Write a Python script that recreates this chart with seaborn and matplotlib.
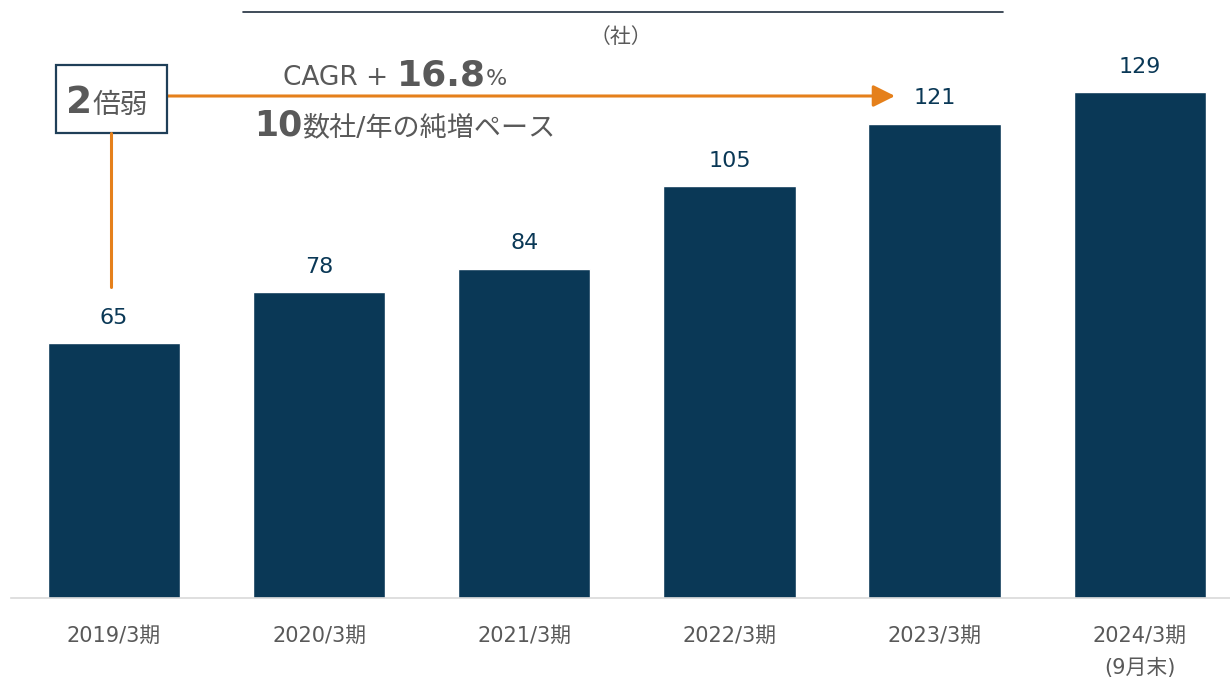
import matplotlib
matplotlib.use("Agg")
import matplotlib.pyplot as plt
import seaborn as sns
import pandas as pd

# data
periods = ["2019/3期", "2020/3期", "2021/3期", "2022/3期", "2023/3期", "2024/3期\n(9月末)"]
companies = [65, 78, 84, 105, 121, 129]

NAVY = "#0a3856"
ORANGE = "#e5801b"
GRAY = "#595959"
W, H = 1230, 678

sns.set_theme(style="white")
# DejaVu for latin (Verdana-like), CJK font as fallback for Japanese
plt.rcParams["font.family"] = ["DejaVu Sans", "Noto Sans CJK JP"]

df = pd.DataFrame({"period": periods, "count": companies})

fig = plt.figure(figsize=(W / 100, H / 100), dpi=100)
ax = fig.add_axes([11 / W, (H - 598) / H, (W - 11) / W, 598 / H])

sns.barplot(data=df, x="period", y="count", color=NAVY, width=0.645,
            saturation=1, ax=ax)
ax.set_xlim(-0.502, 5.44)
ax.set_ylim(0, 152.5)
ax.set_xlabel("")
ax.set_ylabel("")
ax.set_yticks([])
ax.tick_params(axis="x", length=0, pad=20, labelsize=15, labelcolor=GRAY)
for lbl in ax.get_xticklabels():
    lbl.set_linespacing(1.75)
    lbl.set_verticalalignment("top")
for s in ["top", "left", "right"]:
    ax.spines[s].set_visible(False)
ax.spines["bottom"].set_color("#d9d9d9")
ax.spines["bottom"].set_linewidth(1.2)

ax.bar_label(ax.containers[0], padding=11, fontsize=16, color=NAVY)


def px(x, y):
    return x / W, 1 - y / H


# top rule and unit
fig.add_artist(plt.Line2D([243 / W, 1003 / W], [1 - 12 / H, 1 - 12 / H],
                          color="#1f2d3d", lw=1.2))
fig.text(*px(621, 37), "（社）", ha="center", va="center", fontsize=15,
         color=GRAY, family=["Noto Sans CJK JP"])

# orange arrow and connector
ax.annotate("", xy=px(895, 96), xytext=px(167, 96),
            xycoords="figure fraction", textcoords="figure fraction",
            arrowprops=dict(arrowstyle="-|>,head_length=1.1,head_width=0.55",
                            color=ORANGE, lw=2.2, shrinkA=0, shrinkB=0))
fig.add_artist(plt.Line2D([111 / W, 111 / W], [1 - 133 / H, 1 - 287 / H],
                          color=ORANGE, lw=2.2))

# box
fig.add_artist(plt.Rectangle(px(56, 133), 111 / W, 68 / H, facecolor="white",
                             edgecolor="#1f3f58", lw=1.6, transform=fig.transFigure))

renderer = fig.canvas.get_renderer()


def rich(x, y, parts, color):
    # place consecutive text pieces on a common baseline
    cur = x
    for txt, size, weight in parts:
        t = fig.text(*px(cur, y), txt, fontsize=size, fontweight=weight,
                     color=color, ha="left", va="baseline")
        cur += t.get_window_extent(renderer).width


rich(66, 113, [("2", 27, "bold"), ("倍弱", 20, "normal")], GRAY)
rich(283, 85, [("CAGR + ", 19, "normal"), ("16.8", 26, "bold"), ("%", 16, "normal")], GRAY)
rich(254, 135, [("10", 25, "bold"), ("数社/年の純増ペース", 19.5, "normal")], GRAY)

fig.savefig("out.png", dpi=100)
